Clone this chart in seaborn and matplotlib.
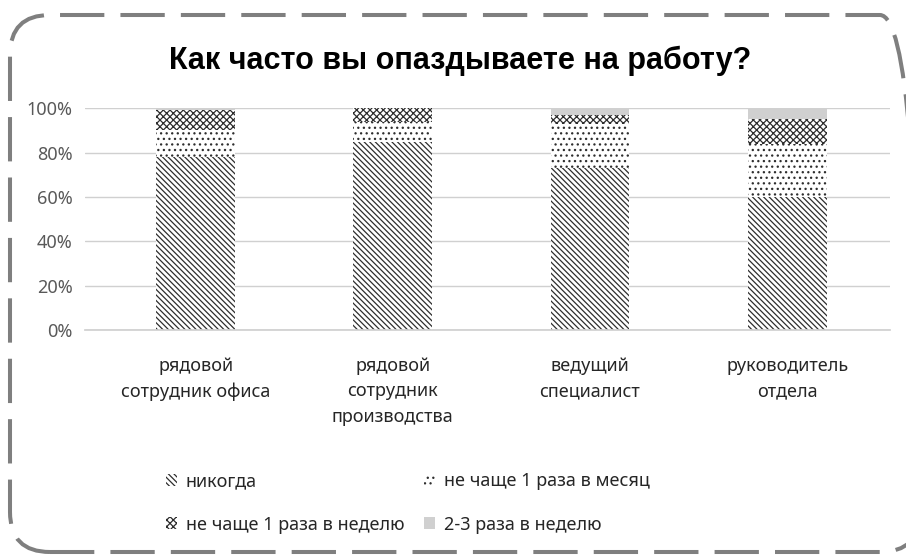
import numpy as np
import pandas as pd
import matplotlib
matplotlib.use("Agg")
import matplotlib.pyplot as plt
import seaborn as sns
from matplotlib.patches import FancyBboxPatch, Patch

categories = ["рядовой\nсотрудник офиса", "рядовой\nсотрудник\nпроизводства",
              "ведущий\nспециалист", "руководитель\nотдела"]
never = [78, 85, 73, 60]
monthly = [12, 9, 20, 24]
weekly = [9, 6, 4, 11]
often = [1, 0, 3, 5]
series_names = ["никогда", "не чаще 1 раза в месяц", "не чаще 1 раза в неделю", "2-3 раза в неделю"]
yticks = [0, 20, 40, 60, 80, 100]

sns.set_theme(style="white")
plt.rcParams['font.family'] = ['Noto Sans', 'DejaVu Sans']
plt.rcParams['hatch.linewidth'] = 0.9
plt.rcParams['savefig.bbox'] = 'standard'

df = pd.DataFrame({"cat": categories, "never": never, "monthly": monthly,
                   "weekly": weekly, "often": often})
df["c1"] = df["never"]
df["c2"] = df["c1"] + df["monthly"]
df["c3"] = df["c2"] + df["weekly"]
df["c4"] = df["c3"] + df["often"]

W, H = 906, 555
fig = plt.figure(figsize=(W / 100, H / 100), dpi=100)
ax = fig.add_axes([0.094, 0.405, 0.888, 0.40])

hatch_col = "#2e2e2e"
H_DIAG = "\\" * 6
H_DOT = "..."
H_CROSS = "xxxxx"
styles = [("c1", "white", H_DIAG), ("c2", "white", H_DOT),
          ("c3", "white", H_CROSS), ("c4", "#d0d0d0", None)]
for col, face, hatch in reversed(styles):
    kw = dict(x="cat", y=col, data=df, order=categories, color=face, saturation=1,
              width=0.4, ax=ax, linewidth=0)
    if hatch:
        kw.update(hatch=hatch, edgecolor=hatch_col)
    else:
        kw.update(edgecolor=face)
    sns.barplot(**kw)

ax.set_ylim(0, 100)
ax.set_xlim(-0.56, 3.52)
ax.set_yticks(yticks)
ax.set_yticklabels([f"{v}%" for v in yticks], fontsize=13, color="#595959")
ax.yaxis.grid(True, color="#d0d0d0", lw=1)
ax.set_axisbelow(True)
for s in ["left", "right", "top"]:
    ax.spines[s].set_visible(False)
ax.spines["bottom"].set_color("#d0d0d0")
ax.tick_params(axis="x", length=0, pad=19, labelsize=13, labelcolor="#262626")
ax.tick_params(axis="y", length=0, pad=9)
for t in ax.get_xticklabels():
    t.set_linespacing(1.55)
ax.set_xlabel("")
ax.set_ylabel("")

fig.text(0.508, 0.89, "Как часто вы опаздываете на работу?", ha="center", va="center",
         fontsize=22, fontweight="bold", color="black", family=["Liberation Sans", "DejaVu Sans"])

face = {"никогда": ("white", H_DIAG), "не чаще 1 раза в месяц": ("white", H_DOT),
        "не чаще 1 раза в неделю": ("white", H_CROSS), "2-3 раза в неделю": ("#d0d0d0", None)}
order = [series_names[0], series_names[2], series_names[1], series_names[3]]
handles = []
for n in order:
    fc, h = face[n]
    handles.append(Patch(facecolor=fc, edgecolor=hatch_col if h else fc, hatch=h, lw=0))
fig.legend(handles, order, ncol=2, loc="upper left", bbox_to_anchor=(0.183, 0.149),
           frameon=False, handlelength=0.6, handleheight=0.6, handletextpad=0.5,
           columnspacing=1.1, labelspacing=1.4, fontsize=13, borderaxespad=0,
           borderpad=0, labelcolor="#262626")

# rounded dashed frame; its right side runs past the image edge, so clip it to the figure
x0, x1 = 10 / W, 920 / W
y0, y1 = 3 / H, 540 / H
border = FancyBboxPatch((x0, y0), x1 - x0, y1 - y0,
                        boxstyle=f"round,pad=0,rounding_size={40 / W}",
                        mutation_aspect=W / H,
                        transform=fig.transFigure, fill=False, ec="#7f7f7f", lw=2.9,
                        ls=(0, (11, 4.0)))
fig.add_artist(border)
border.set_clip_on(True)
border.set_clip_box(fig.bbox)

fig.savefig("out.png", dpi=100, bbox_inches=None)
